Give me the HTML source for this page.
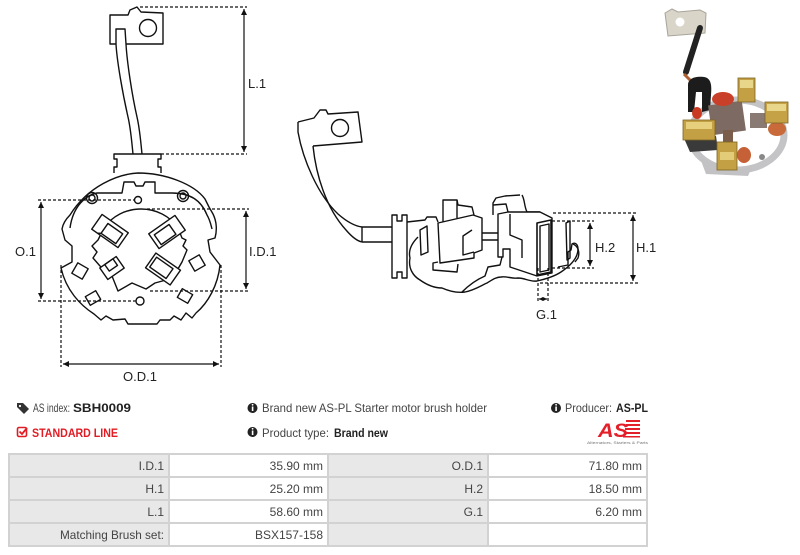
<!DOCTYPE html>
<html><head><meta charset="utf-8"><style>
html,body{margin:0;padding:0;background:#fff;}
svg{display:block;}
</style></head><body>
<svg width="800" height="555" viewBox="0 0 800 555" xmlns="http://www.w3.org/2000/svg" font-family="'Liberation Sans', sans-serif">
<defs>
<marker id="a" viewBox="0 0 10 10" refX="10" refY="5" markerWidth="6" markerHeight="6" orient="auto-start-reverse" markerUnits="userSpaceOnUse"><path d="M0,0 L10,5 L0,10 Z" fill="#111"/></marker>
<marker id="s" viewBox="0 0 10 10" refX="10" refY="5" markerWidth="4" markerHeight="4" orient="auto-start-reverse" markerUnits="userSpaceOnUse"><path d="M0,0 L10,5 L0,10 Z" fill="#111"/></marker>
</defs>
<rect width="800" height="555" fill="#fff"/>

<!-- ============ LEFT DRAWING ============ -->
<g fill="none" stroke="#111" stroke-width="1.4" stroke-linejoin="round">
  <path d="M116,44 L110,44 L110,15 L128,15 L130,10 L137,7 L141,12 L163,13 L163,44 L126,44" fill="#fff"/>
  <circle cx="148" cy="28" r="8.5"/>
  <path d="M116,44 L116,29 L125,29 L126,44"/>
  <path d="M116,44 C117,62 123,95 128,117 C131,130 132,145 133,154"/>
  <path d="M126,44 C127,62 132,95 137,117 C140,130 141,145 142,154"/>
  <path d="M114,173 L114,167 L117,167 L117,159 L114,159 L114,154 L161,154 L161,159 L158,159 L158,167 L161,167 L161,173"/>
  <path d="M70,215 C88,186 118,174 138,173 C165,173 194,184 205,199 L209,207 L213,214 C217,222 217,231 215,238 L208,240 L210,252 L220,265 C218,285 208,303 196,313 L192,318 L186,313 L181,320 L174,316 L170,320 L160,320 L157,324 L128,324 L125,319 L113,320 L106,316 L101,320 L94,314 C80,305 66,290 61,268 L72,262 L72,246 L65,240 L62,229 C63,223 66,219 70,215 Z" fill="#fff"/>
  <path d="M70,228 C73,206 86,195 97,193 L122,193 L124,182 L134,182 L136,186 L143,186 L145,182 L155,182 L155,193 L172,193 C190,193 201,200 207,215 C210,220 211,225 212,229"/>
  <circle cx="92" cy="198" r="5.5"/><circle cx="92" cy="198" r="3"/>
  <circle cx="183" cy="196" r="5.5"/><circle cx="183" cy="196" r="3"/>
  <circle cx="138" cy="200" r="3.5"/>
  <circle cx="140" cy="301" r="4"/>
  <path d="M104,228 C112,216 126,209 141,209 C156,209 170,216 178,228 L182,238 L186,240 L183,246 L187,250 L182,262 C178,270 172,276 166,280 L155,283 L146,289 L132,283 L118,291 L112,276 L100,266 L93,258 L97,252 L92,246 L98,240 Z"/>
  <g transform="translate(110,231) rotate(35)"><rect x="-16" y="-9" width="32" height="18" fill="#fff"/><rect x="-6" y="-5" width="18" height="12"/><line x1="-6" y1="7" x2="-9" y2="9"/></g>
  <g transform="translate(167,232) rotate(-35)"><rect x="-16" y="-9" width="32" height="18" fill="#fff"/><rect x="-12" y="-5" width="18" height="12"/></g>
  <g transform="translate(112,268) rotate(-35)"><rect x="-10" y="-7" width="20" height="14" fill="#fff"/><rect x="-4" y="-7" width="10" height="8"/></g>
  <g transform="translate(163,269) rotate(35)"><rect x="-15" y="-9" width="30" height="18" fill="#fff"/><rect x="-12" y="-6" width="20" height="12"/></g>
  <g transform="translate(80,271) rotate(30)"><rect x="-6" y="-6" width="12" height="12" fill="#fff"/></g>
  <g transform="translate(197,263) rotate(-30)"><rect x="-6" y="-6" width="12" height="12" fill="#fff"/></g>
  <g transform="translate(93,298) rotate(-30)"><rect x="-6" y="-5" width="12" height="10" fill="#fff"/></g>
  <g transform="translate(185,296) rotate(30)"><rect x="-6" y="-5" width="12" height="10" fill="#fff"/></g>
</g>
<g stroke="#111" stroke-width="1.2" fill="none">
  <g stroke-dasharray="3 2">
    <line x1="140" y1="7" x2="247" y2="7"/>
    <line x1="161" y1="154" x2="247" y2="154"/>
    <line x1="38" y1="200" x2="134" y2="200"/>
    <line x1="38" y1="301" x2="136" y2="301"/>
    <line x1="147" y1="209" x2="249" y2="209"/>
    <line x1="150" y1="291" x2="249" y2="291"/>
    <line x1="61" y1="265" x2="61" y2="367"/>
    <line x1="221" y1="265" x2="221" y2="367"/>
  </g>
  <line x1="244" y1="9" x2="244" y2="152" marker-start="url(#a)" marker-end="url(#a)"/>
  <line x1="41" y1="202" x2="41" y2="299" marker-start="url(#a)" marker-end="url(#a)"/>
  <line x1="246" y1="211" x2="246" y2="289" marker-start="url(#a)" marker-end="url(#a)"/>
  <line x1="63" y1="364" x2="219" y2="364" marker-start="url(#a)" marker-end="url(#a)"/>
</g>
<g font-size="13" fill="#222">
  <text x="248" y="88">L.1</text>
  <text x="249" y="256">I.D.1</text>
  <text x="15" y="256">O.1</text>
  <text x="140" y="381" text-anchor="middle">O.D.1</text>
</g>

<!-- ============ MIDDLE DRAWING ============ -->
<g fill="none" stroke="#111" stroke-width="1.4" stroke-linejoin="round">
  <path d="M298,122 L314,118 L320,110 L326,110 L328,114 L358,112 L362,142 L313,146" fill="#fff"/>
  <circle cx="340" cy="128" r="8.5"/>
  <path d="M298,122 L298,132 C303,160 318,195 338,214 C346,221 354,226 362,227"/>
  <path d="M313,146 C316,175 326,208 346,230 C352,237 357,241 362,242"/>
  <path d="M362,227 L392,227 M362,242 L392,242 M362,227 L362,242"/>
  <path d="M392,215 L397,215 L397,221 L402,221 L402,215 L407,215 L407,278 L402,278 L402,272 L397,272 L397,278 L392,278 Z" fill="#fff"/>
  <path d="M407,222 L425,220 L427,217 L436,217 L438,222"/>
  <path d="M418,237 C412,243 408,250 410,258 C408,268 413,276 420,280 C427,285 434,288 442,288 C451,292 458,293 465,292 C475,290 482,285 487,283 C492,280 496,277 501,277 C507,276 512,279 518,278 C525,278 530,282 537,281 C546,279 555,276 561,272 C570,266 578,258 578,249 C578,244 575,242 572,244 L571,250 L568,252 L568,265 L558,267"/>
  <path d="M462,292 C470,284 478,279 485,276 L488,267 L500,265 L502,257 L498,256"/>
  <path d="M522,195 C525,200 524,206 527,212 L540,212"/>
  <path d="M438,223 L473,215 L482,218 L482,250 L474,253 L474,258 L440,263 Z" fill="#fff"/>
  <path d="M472,230 L463,236 L463,255 L474,252"/>
  <path d="M443,222 L443,200 L457,200 L458,205 L472,207 L474,215"/>
  <path d="M457,200 L457,218"/>
  <path d="M438,262 L433,263 L433,270 L457,272 L458,264"/>
  <path d="M420,230 L427,226 L428,252 L421,255 Z"/>
  <path d="M482,233 L498,233 M482,240 L498,240"/>
  <path d="M493,215 L493,203 L496,198 L505,196 L520,195"/>
  <path d="M493,205 L506,204 L508,212"/>
  <path d="M498,214 L508,212 L540,212 L552,218 L552,273 L537,276 L510,267 L510,249 L503,249 L503,257 L498,257 Z" fill="#fff"/>
  <path d="M510,214 L510,235 L522,240 L522,258"/>
  <path d="M537,223 L551,220 L551,272 L537,275 Z" stroke-width="1.6"/>
  <path d="M540,226 L549,224 L549,270 L540,272 Z"/>
  <path d="M566,223 L570,221 L570,258 L567,260 Z"/>
  <path d="M573,244 C578,246 580,252 578,258 L575,262"/>
</g>
<g stroke="#111" stroke-width="1.2" fill="none">
  <g stroke-dasharray="3 2">
    <line x1="553" y1="213" x2="638" y2="213"/>
    <line x1="540" y1="283" x2="638" y2="283"/>
    <line x1="552" y1="221" x2="594" y2="221"/>
    <line x1="552" y1="268" x2="594" y2="268"/>
    <line x1="538" y1="268" x2="538" y2="302"/>
    <line x1="548" y1="268" x2="548" y2="302"/>
  </g>
  <line x1="633" y1="215" x2="633" y2="281" marker-start="url(#a)" marker-end="url(#a)"/>
  <line x1="590" y1="223" x2="590" y2="266" marker-start="url(#a)" marker-end="url(#a)"/>
  <line x1="539" y1="299" x2="547" y2="299" marker-start="url(#s)" marker-end="url(#s)"/>
</g>
<g font-size="13" fill="#222">
  <text x="595" y="252">H.2</text>
  <text x="636" y="252">H.1</text>
  <text x="536" y="319">G.1</text>
</g>

<!-- ============ PHOTO ============ -->
<g>
  <path d="M665,13 L672,9 L678,12 L700,10 L706,13 L705,33 L668,36 Z" fill="#d9d5c8" stroke="#a8a49a" stroke-width="1"/>
  <circle cx="680" cy="22" r="4.5" fill="#fff"/>
  <path d="M700,28 L686,72" stroke="#222" stroke-width="6" stroke-linecap="round"/>
  <path d="M684,74 L690,80" stroke="#b06030" stroke-width="3"/>
  <ellipse cx="737" cy="135" rx="47" ry="35" fill="none" stroke="#c4c4c6" stroke-width="7"/>
  <path d="M683,136 L716,136 L718,150 L690,152 Z" fill="#3a3a3a"/>
  <path d="M700,158 L735,170 L752,167 L748,176 L706,174 Z" fill="#c2c2c4"/>
  <path d="M688,85 C688,78 696,76 704,77 C711,78 712,85 711,95 L710,110 L702,112 L702,92 L696,92 L694,112 L688,112 Z" fill="#1c1c1c"/>
  <rect x="710" y="103" width="34" height="30" fill="#7d6a62" transform="rotate(-8 727 118)"/>
  <rect x="750" y="113" width="17" height="15" fill="#8a7a74"/>
  <rect x="723" y="130" width="10" height="14" fill="#7a5d4a"/>
  <ellipse cx="723" cy="99" rx="11" ry="7" fill="#c8402a"/>
  <ellipse cx="697" cy="113" rx="5" ry="6" fill="#c83a22"/>
  <ellipse cx="777" cy="129" rx="9" ry="7" fill="#c86a3a"/>
  <ellipse cx="744" cy="155" rx="7" ry="8" fill="#c66036"/>
  <rect x="738" y="78" width="17" height="24" fill="#c4a045" stroke="#7d6420" stroke-width="0.8"/>
  <rect x="740" y="80" width="13" height="8" fill="#e8d68a"/>
  <rect x="683" y="120" width="32" height="20" fill="#c4a045" stroke="#7d6420" stroke-width="0.8"/>
  <rect x="686" y="122" width="26" height="7" fill="#e6d07e"/>
  <rect x="765" y="102" width="23" height="21" fill="#c6a247" stroke="#7d6420" stroke-width="0.8"/>
  <rect x="767" y="104" width="19" height="7" fill="#e8d68a"/>
  <rect x="717" y="142" width="20" height="28" fill="#c4a045" stroke="#7d6420" stroke-width="0.8"/>
  <rect x="720" y="152" width="14" height="8" fill="#e2cc78"/>
  <circle cx="762" cy="157" r="3" fill="#888"/>
</g>

<!-- ============ INFO ============ -->
<g font-size="12" fill="#444">
  <path d="M17,403 L23,403 L29,409 L24,414 L17,407 Z" fill="#333"/>
  <circle cx="20" cy="406" r="1.1" fill="#fff"/>
  <text x="33" y="412" textLength="37" lengthAdjust="spacingAndGlyphs">AS index:</text>
  <text x="73" y="412" font-weight="bold" fill="#222" textLength="58" lengthAdjust="spacingAndGlyphs">SBH0009</text>
  <rect x="17.5" y="427.5" width="9" height="9" rx="1.5" fill="none" stroke="#e01c24" stroke-width="1.6"/>
  <path d="M19.5,431.5 L22,434 L27,428" fill="none" stroke="#e01c24" stroke-width="1.8"/>
  <text x="32" y="437" font-weight="bold" fill="#e01c24" textLength="86" lengthAdjust="spacingAndGlyphs">STANDARD LINE</text>
  <circle cx="252.5" cy="408" r="5" fill="#222"/><rect x="251.8" y="406.5" width="1.6" height="4.5" fill="#fff"/><circle cx="252.6" cy="404.8" r="0.9" fill="#fff"/>
  <text x="262" y="412" textLength="225" lengthAdjust="spacingAndGlyphs">Brand new AS-PL Starter motor brush holder</text>
  <circle cx="252.5" cy="432" r="5" fill="#222"/><rect x="251.8" y="430.5" width="1.6" height="4.5" fill="#fff"/><circle cx="252.6" cy="428.8" r="0.9" fill="#fff"/>
  <text x="262" y="437" textLength="67" lengthAdjust="spacingAndGlyphs">Product type:</text>
  <text x="334" y="437" font-weight="bold" fill="#222" textLength="54" lengthAdjust="spacingAndGlyphs">Brand new</text>
  <circle cx="556" cy="408" r="5" fill="#222"/><rect x="555.3" y="406.5" width="1.6" height="4.5" fill="#fff"/><circle cx="556.1" cy="404.8" r="0.9" fill="#fff"/>
  <text x="565" y="412" textLength="47" lengthAdjust="spacingAndGlyphs">Producer:</text>
  <text x="616" y="412" font-weight="bold" fill="#222" textLength="32" lengthAdjust="spacingAndGlyphs">AS-PL</text>
</g>
<g>
  <text x="598" y="437" font-size="19" font-weight="bold" font-style="italic" fill="#e3202a" textLength="30" lengthAdjust="spacingAndGlyphs">AS</text>
  <g fill="#e3202a">
    <rect x="626" y="420" width="14" height="2"/>
    <rect x="626" y="424" width="14" height="2"/>
    <rect x="625" y="428" width="15" height="2"/>
    <rect x="624" y="432" width="16" height="2"/>
    <rect x="623" y="436" width="17" height="1.5"/>
  </g>
  <text x="587" y="444" font-size="4" fill="#777" textLength="61" lengthAdjust="spacingAndGlyphs">Alternators, Starters &amp; Parts</text>
</g>

<!-- ============ TABLE ============ -->
<g>
  <rect x="9" y="454" width="160" height="92" fill="#e8e8e8"/>
  <rect x="169" y="454" width="159" height="92" fill="#fff"/>
  <rect x="328" y="454" width="160" height="92" fill="#e8e8e8"/>
  <rect x="488" y="454" width="159" height="92" fill="#fff"/>
  <g stroke="#d2d2d2" stroke-width="2" fill="none">
    <rect x="9" y="454" width="638" height="92"/>
    <line x1="9" y1="477" x2="647" y2="477"/>
    <line x1="9" y1="500" x2="647" y2="500"/>
    <line x1="9" y1="523" x2="647" y2="523"/>
    <line x1="169" y1="454" x2="169" y2="546"/>
    <line x1="328" y1="454" x2="328" y2="546"/>
    <line x1="488" y1="454" x2="488" y2="546"/>
  </g>
  <g font-size="12" fill="#444" text-anchor="end">
    <text x="164" y="470">I.D.1</text>
    <text x="323" y="470">35.90 mm</text>
    <text x="483" y="470">O.D.1</text>
    <text x="642" y="470">71.80 mm</text>
    <text x="164" y="493">H.1</text>
    <text x="323" y="493">25.20 mm</text>
    <text x="483" y="493">H.2</text>
    <text x="642" y="493">18.50 mm</text>
    <text x="164" y="516">L.1</text>
    <text x="323" y="516">58.60 mm</text>
    <text x="483" y="516">G.1</text>
    <text x="642" y="516">6.20 mm</text>
    <text x="164" y="539" textLength="104" lengthAdjust="spacingAndGlyphs">Matching Brush set:</text>
    <text x="323" y="539">BSX157-158</text>
  </g>
</g>
</svg>
</body></html>
